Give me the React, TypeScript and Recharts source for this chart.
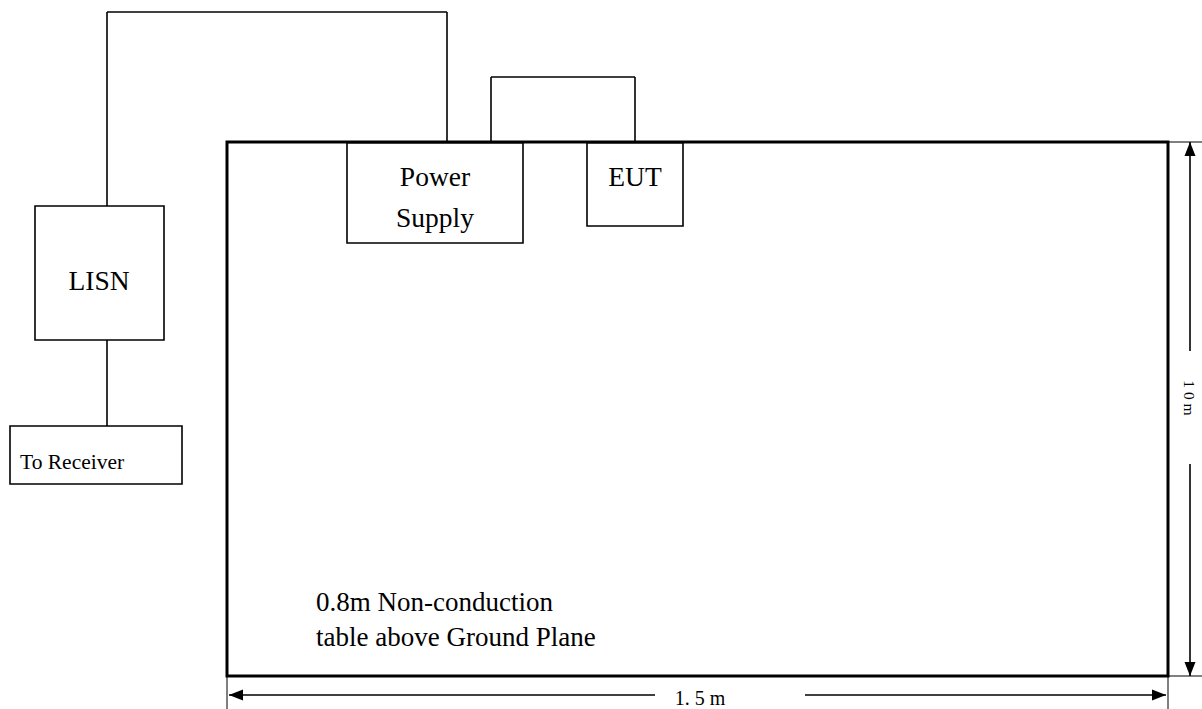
import { ReferenceArea, ReferenceLine, Scatter, ScatterChart, XAxis, YAxis } from "recharts";

const W = 1202;
const H = 709;
const FONT = "'Liberation Serif', 'Times New Roman', serif";

// layout units = pixels of the original drawing, y grows downwards
const boxes = [
  { id: "table", x1: 227, x2: 1168, y1: 142, y2: 676 },
  { id: "lisn", x1: 35, x2: 164, y1: 206, y2: 340 },
  { id: "receiver", x1: 10, x2: 182, y1: 426, y2: 484 },
  { id: "power", x1: 347, x2: 523, y1: 143, y2: 243 },
  { id: "eut", x1: 587, x2: 683, y1: 143, y2: 226 },
];

const wires = [
  [{ x: 107, y: 206 }, { x: 107, y: 12 }, { x: 447, y: 12 }, { x: 447, y: 142 }],
  [{ x: 491, y: 142 }, { x: 491, y: 77 }, { x: 635, y: 77 }, { x: 635, y: 142 }],
  [{ x: 107, y: 340 }, { x: 107, y: 426 }],
];

const extensionLines = [
  [{ x: 1168, y: 142 }, { x: 1202, y: 142 }],
  [{ x: 1168, y: 676 }, { x: 1202, y: 676 }],
  [{ x: 227, y: 676 }, { x: 227, y: 709 }],
  [{ x: 1168, y: 676 }, { x: 1168, y: 709 }],
];

const dimLines = [
  [{ x: 1190, y: 142 }, { x: 1190, y: 351 }],
  [{ x: 1190, y: 464 }, { x: 1190, y: 676 }],
  [{ x: 229, y: 695 }, { x: 655, y: 695 }],
  [{ x: 805, y: 695 }, { x: 1166, y: 695 }],
];

const arrowHeads = [
  { x: 1190, y: 142, dir: "up" },
  { x: 1190, y: 676, dir: "down" },
  { x: 229, y: 695, dir: "left" },
  { x: 1166, y: 695, dir: "right" },
];

const boxLabels = [
  { x: 435, y: 186, text: "Power" },
  { x: 435, y: 227, text: "Supply" },
  { x: 99, y: 290, text: "LISN" },
  { x: 635, y: 186, text: "EUT" },
];

const receiverLabels = [{ x: 20, y: 469, text: "To Receiver" }];

const noteLabels = [
  { x: 316, y: 611, text: "0.8m Non-conduction" },
  { x: 316, y: 646, text: "table above Ground Plane" },
];

const widthLabels = [{ x: 700, y: 705, text: "1. 5 m" }];
const heightLabels = [{ x: 1189, y: 398, text: "1 0 m" }];

const pairs = (pts: { x: number; y: number }[]) =>
  pts.slice(1).map((p, i) => [pts[i], p] as [{ x: number; y: number }, { x: number; y: number }]);

const textShape = (size: number, anchor: "start" | "middle", rotate = false) => (props: any) => {
  const { cx, cy, payload } = props;
  return (
    <text
      x={cx}
      y={cy}
      textAnchor={anchor}
      dominantBaseline={rotate ? "central" : "alphabetic"}
      fontFamily={FONT}
      fontSize={size}
      fill="#000"
      transform={rotate ? `rotate(90 ${cx} ${cy})` : undefined}
    >
      {payload.text}
    </text>
  );
};

const arrowShape = (props: any) => {
  const { cx, cy, payload } = props;
  const len = 14;
  const half = 5.5;
  let pts = "";
  if (payload.dir === "up") pts = `${cx},${cy} ${cx - half},${cy + len} ${cx + half},${cy + len}`;
  if (payload.dir === "down") pts = `${cx},${cy} ${cx - half},${cy - len} ${cx + half},${cy - len}`;
  if (payload.dir === "left") pts = `${cx},${cy} ${cx + len},${cy - half} ${cx + len},${cy + half}`;
  if (payload.dir === "right") pts = `${cx},${cy} ${cx - len},${cy - half} ${cx - len},${cy + half}`;
  return <polygon points={pts} fill="#000" />;
};

export default function App() {
  return (
    <div style={{ position: "absolute", left: 0, top: 0, background: "#fff" }}>
      <ScatterChart width={W} height={H} margin={{ top: 0, right: 0, bottom: 0, left: 0 }}>
        <XAxis type="number" dataKey="x" domain={[0, W]} allowDataOverflow hide />
        <YAxis type="number" dataKey="y" domain={[0, H]} allowDataOverflow reversed hide />

        {boxes.map((b) => (
          <ReferenceArea
            key={b.id}
            x1={b.x1}
            x2={b.x2}
            y1={b.y1}
            y2={b.y2}
            fill="#fff"
            fillOpacity={1}
            stroke="#000"
            strokeWidth={b.id === "table" ? 3 : 1.6}
          />
        ))}

        {wires.flatMap((w, wi) =>
          pairs(w).map((seg, si) => (
            <ReferenceLine key={`w${wi}-${si}`} segment={seg} stroke="#000" strokeWidth={1.6} />
          ))
        )}

        {extensionLines.map((seg, i) => (
          <ReferenceLine key={`e${i}`} segment={seg} stroke="#000" strokeWidth={1} />
        ))}

        {dimLines.map((seg, i) => (
          <ReferenceLine key={`d${i}`} segment={seg} stroke="#000" strokeWidth={1.6} />
        ))}

        <Scatter data={arrowHeads} shape={arrowShape} isAnimationActive={false} />
        <Scatter data={boxLabels} shape={textShape(27.5, "middle")} isAnimationActive={false} />
        <Scatter data={receiverLabels} shape={textShape(21.5, "start")} isAnimationActive={false} />
        <Scatter data={noteLabels} shape={textShape(27, "start")} isAnimationActive={false} />
        <Scatter data={widthLabels} shape={textShape(20, "middle")} isAnimationActive={false} />
        <Scatter data={heightLabels} shape={textShape(15.5, "middle", true)} isAnimationActive={false} />
      </ScatterChart>
    </div>
  );
}
